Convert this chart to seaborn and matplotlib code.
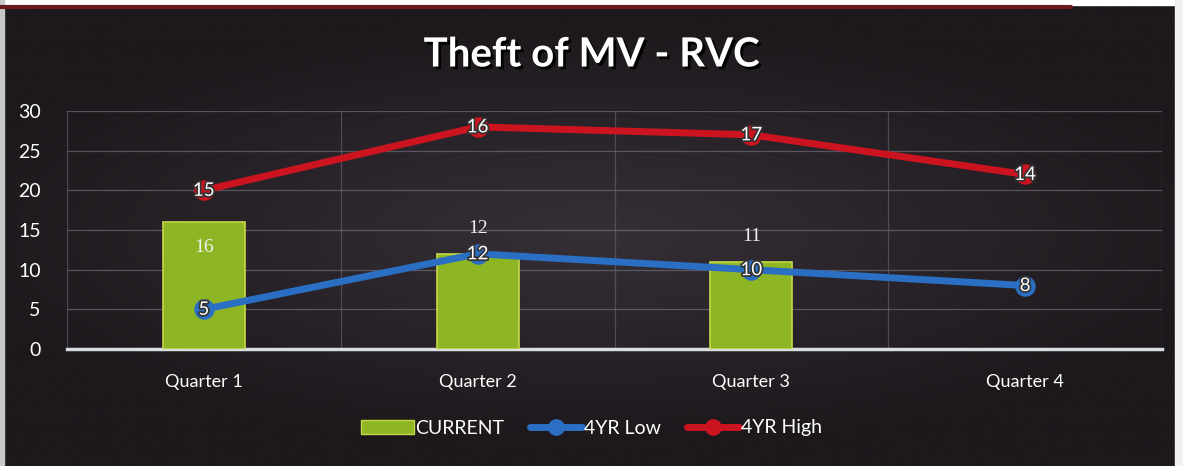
import numpy as np
import pandas as pd
import matplotlib
matplotlib.use("Agg")
import matplotlib.pyplot as plt
import matplotlib.patheffects as pe
from matplotlib.patches import Patch
from matplotlib.lines import Line2D
import seaborn as sns

# ---- data ----
quarters = ["Quarter 1", "Quarter 2", "Quarter 3", "Quarter 4"]
current = [16, 12, 11, np.nan]
low_4yr = [5, 12, 10, 8]
high_4yr = [15, 16, 17, 14]   # stacked on top of 4YR Low
title = "Theft of MV - RVC"
yticks = [0, 5, 10, 15, 20, 25, 30]

sns.set_theme(style="dark")
plt.rcParams['font.family'] = ['Lato', 'DejaVu Sans']

W, H = 1183, 466
fig = plt.figure(figsize=(W / 100, H / 100), dpi=100)

# background gradient
bg = fig.add_axes([0, 0, 1, 1], zorder=-10)
xx = np.linspace(-1, 1, 400)
yy = np.linspace(-1, 1, 200)
X, Y = np.meshgrid(xx, yy)
r = np.sqrt((X * 0.9) ** 2 + (Y * 1.1) ** 2)
shade = np.clip(1 - r, 0, 1)
c_out = np.array([0x1c, 0x18, 0x1c]) / 255
c_in = np.array([0x36, 0x30, 0x36]) / 255
img = c_out[None, None, :] + (c_in - c_out)[None, None, :] * shade[..., None]
bg.imshow(img, aspect="auto", extent=[0, 1, 0, 1], origin="lower")
# top frame strip
bg.fill_between([0, 1], 0.99, 1.0, color="white")
bg.plot([0, 0.905], [0.985, 0.985], color="#6a1a1a", lw=3)
bg.fill_between([0.993, 1], 0, 1, color="#f2f2f2")
bg.fill_between([0, 0.003], 0, 1, color="#c8c8c8")
bg.set_xlim(0, 1)
bg.set_ylim(0, 1)
bg.axis("off")

ax = fig.add_axes([67 / W, 1 - 349 / H, (1162 - 67) / W, (349 - 111) / H])
ax.set_facecolor("none")

df = pd.DataFrame({"quarter": quarters, "current": current,
                   "low": low_4yr,
                   "high_stack": np.array(low_4yr) + np.array(high_4yr)})

sns.barplot(data=df, x="quarter", y="current", color="#8db524", width=0.3,
            saturation=1, edgecolor="#c7d94a", linewidth=1.2, ax=ax, zorder=3)

sns.pointplot(data=df, x="quarter", y="low", color="#2a6fc4", markers="o",
              markersize=11, linewidth=5, ax=ax, zorder=5)
sns.pointplot(data=df, x="quarter", y="high_stack", color="#cc1420", markers="o",
              markersize=11, linewidth=5, ax=ax, zorder=5)

lbl_fx = [pe.withStroke(linewidth=2.5, foreground="#333333")]
for i, v in enumerate(current):
    if np.isnan(v):
        continue
    yv = v - 3.2 if i == 0 else v + 3.2
    ax.text(i, yv, f"{int(v)}", color="#f0f0f0", ha="center", va="center",
            fontsize=14, zorder=6, family=["Liberation Serif", "DejaVu Serif"])
for i, v in enumerate(low_4yr):
    ax.text(i, v, f"{v}", color="white", ha="center", va="center",
            fontsize=13.5, zorder=7, path_effects=lbl_fx)
for i, v in enumerate(high_4yr):
    ax.text(i, low_4yr[i] + v, f"{v}", color="white", ha="center", va="center",
            fontsize=13.5, zorder=7, path_effects=lbl_fx)

ax.set_ylim(0, 30)
ax.set_xlim(-0.5, 3.5)
ax.set_yticks(yticks)
ax.set_yticklabels([str(t) for t in yticks], color="white", fontsize=14)
ax.tick_params(axis="y", length=0, pad=19)
ax.tick_params(axis="x", length=0, pad=18, colors="white", labelsize=13)
ax.set_xlabel("")
ax.set_ylabel("")
for t in ax.get_xticklabels():
    t.set_color("white")

for y in yticks[1:]:
    ax.axhline(y, color="#7c7888", lw=0.9, alpha=0.6, zorder=1)
for x in [-0.5, 0.5, 1.5, 2.5, 3.5]:
    ax.axvline(x, color="#6a6676", lw=0.9, alpha=0.6, zorder=1)
for s in ["top", "right", "left"]:
    ax.spines[s].set_visible(False)
ax.spines["bottom"].set_color("#d8dde0")
ax.spines["bottom"].set_linewidth(2.5)
ax.grid(False)

fig.text(0.5, 1 - 55 / H, title, color="white", fontsize=29, fontweight="bold",
         ha="center", va="center",
         path_effects=[pe.withSimplePatchShadow(offset=(2, -2), shadow_rgbFace="black", alpha=0.9)])

handles = [
    Patch(facecolor="#8db524", edgecolor="#c7d94a", label="CURRENT"),
    Line2D([0], [0], color="#2a6fc4", lw=5, marker="o", markersize=11, label="4YR Low"),
    Line2D([0], [0], color="#cc1420", lw=5, marker="o", markersize=11, label="4YR High"),
]
leg = fig.legend(handles=handles, loc="center", bbox_to_anchor=(0.5, 1 - 428 / H),
                 ncol=3, frameon=False, fontsize=14, handlelength=2.7,
                 handletextpad=0.1, columnspacing=1.3, labelcolor="white")

fig.savefig("out.png", dpi=100)
